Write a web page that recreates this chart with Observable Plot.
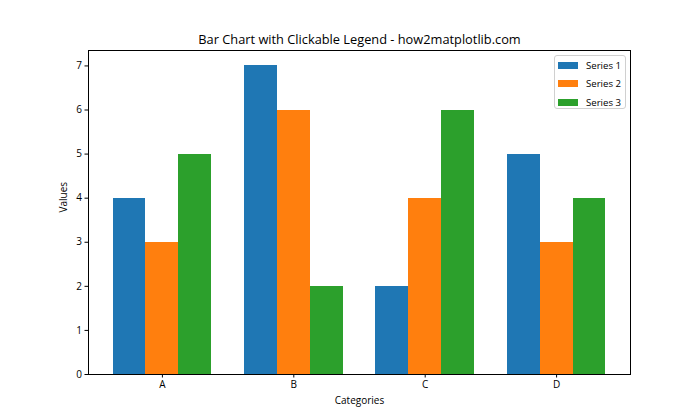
<!DOCTYPE html>
<html>
<head>
<meta charset="utf-8">
<script src="https://cdn.jsdelivr.net/npm/d3@7"></script>
<script src="https://cdn.jsdelivr.net/npm/@observablehq/plot@0.6"></script>
<style>
  html, body { margin: 0; padding: 0; background: #fff; }
  #wrap { position: relative; width: 700px; height: 420px; font-family: "Open Sans", "Noto Sans", sans-serif; }
  #legend { position: absolute; left: 554px; top: 55px; width: 72px; height: 54px; border: 1px solid #d0d0d0; border-radius: 3px; background: rgba(255,255,255,0.8); box-sizing: border-box; font-size: 9.6px; }
  .row { position: absolute; left: 3px; height: 14px; display: flex; align-items: center; }
  .sw { width: 20px; height: 7px; margin-right: 8px; }
</style>
</head>
<body>
<div id="wrap"></div>
<script>
const categories = ["A", "B", "C", "D"];
const seriesNames = ["Series 1", "Series 2", "Series 3"];
const series1 = [4, 7, 2, 5];
const series2 = [3, 6, 4, 3];
const series3 = [5, 2, 6, 4];
const colors = ["#1f77b4", "#ff7f0e", "#2ca02c"];
const yTicks = [0, 1, 2, 3, 4, 5, 6, 7];
const title = "Bar Chart with Clickable Legend - how2matplotlib.com";

const allSeries = [series1, series2, series3];
const barWidth = 0.25;
const rows = [];
allSeries.forEach((vals, si) => {
  vals.forEach((v, ci) => {
    const x1 = ci + (si - 1) * barWidth - barWidth / 2;
    rows.push({category: categories[ci], series: seriesNames[si], value: v, x1, x2: x1 + barWidth});
  });
});

const font = '"Open Sans", "Noto Sans", sans-serif';
const chart = Plot.plot({
  width: 700,
  height: 420,
  marginLeft: 88,
  marginRight: 70,
  marginTop: 50,
  marginBottom: 46,
  style: {fontFamily: font, fontSize: "10px", color: "#000", background: "#fff"},
  x: {domain: [-0.5625, 3.5625]},
  y: {domain: [0, 7.35]},
  color: {domain: seriesNames, range: colors},
  marks: [
    Plot.rectY(rows, {x1: "x1", x2: "x2", y: "value", fill: "series", inset: 0, shapeRendering: "crispEdges"}),
    Plot.axisX({ticks: [0, 1, 2, 3], tickFormat: i => categories[i], tickSize: 3.5, tickPadding: 3, label: null, fontSize: 10}),
    Plot.axisY({ticks: yTicks, tickFormat: d => String(d), tickSize: 3.5, tickPadding: 3, label: null, fontSize: 10}),
    Plot.frame({stroke: "#000", strokeWidth: 1}),
    Plot.text([title], {frameAnchor: "top", dy: -7, lineAnchor: "bottom", fontSize: 12.8}),
    Plot.text(["Categories"], {frameAnchor: "bottom", dy: 22, lineAnchor: "top", fontSize: 10}),
    Plot.text(["Values"], {frameAnchor: "left", dx: -25, rotate: -90, fontSize: 10})
  ]
});
const wrap = document.getElementById("wrap");
wrap.appendChild(chart);

const legend = document.createElement("div");
legend.id = "legend";
seriesNames.forEach((name, i) => {
  const row = document.createElement("div");
  row.className = "row";
  row.style.top = (2 + i * 18.5) + "px";
  const sw = document.createElement("div");
  sw.className = "sw";
  sw.style.background = colors[i];
  const label = document.createElement("span");
  label.textContent = name;
  row.appendChild(sw);
  row.appendChild(label);
  legend.appendChild(row);
});
wrap.appendChild(legend);
</script>
</body>
</html>
